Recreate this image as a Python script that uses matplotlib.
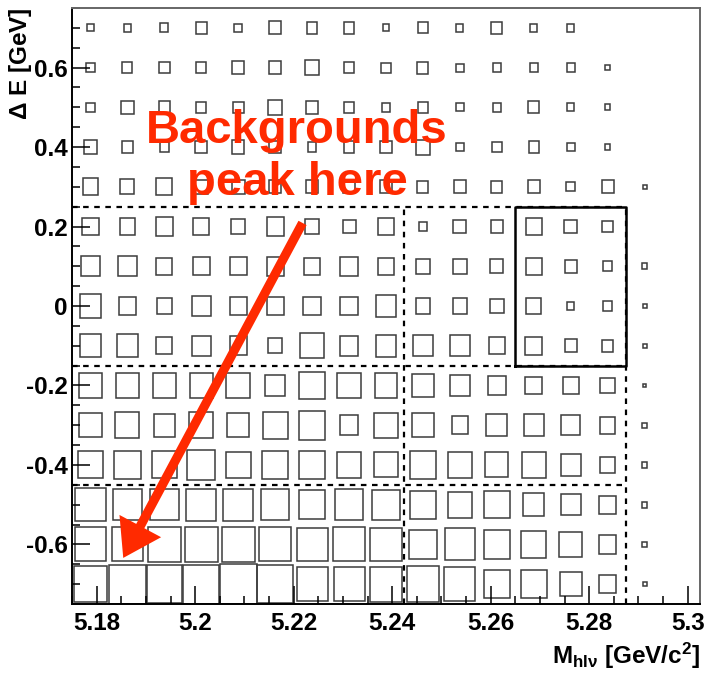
import matplotlib
matplotlib.use('Agg')
import matplotlib.pyplot as plt
from matplotlib.patches import Rectangle
from matplotlib.ticker import MultipleLocator, FixedLocator
import numpy as np

# binning of the Mbc / Delta E plane
x_edges = np.linspace(5.175, 5.3025, 18)
y_edges = np.linspace(-0.75, 0.75, 16)

# box side relative to bin size, rows from dE = 0.7 (top) down to -0.7
box_frac = [
    [0.18, 0.19, 0.22, 0.30, 0.21, 0.32, 0.29, 0.29, 0.18, 0.27, 0.19, 0.29, 0.19, 0.20, 0.00, 0.00, 0],
    [0.23, 0.27, 0.29, 0.27, 0.33, 0.32, 0.36, 0.29, 0.25, 0.30, 0.20, 0.22, 0.23, 0.21, 0.13, 0.00, 0],
    [0.23, 0.33, 0.31, 0.27, 0.29, 0.39, 0.34, 0.27, 0.22, 0.27, 0.21, 0.23, 0.31, 0.20, 0.15, 0.00, 0],
    [0.34, 0.30, 0.25, 0.32, 0.33, 0.32, 0.23, 0.29, 0.31, 0.38, 0.22, 0.26, 0.28, 0.22, 0.15, 0.00, 0],
    [0.42, 0.38, 0.43, 0.36, 0.35, 0.33, 0.32, 0.33, 0.33, 0.30, 0.33, 0.30, 0.32, 0.23, 0.33, 0.11, 0],
    [0.44, 0.42, 0.47, 0.43, 0.39, 0.46, 0.38, 0.35, 0.41, 0.22, 0.35, 0.34, 0.42, 0.34, 0.28, 0.00, 0],
    [0.51, 0.50, 0.43, 0.46, 0.46, 0.47, 0.44, 0.47, 0.43, 0.38, 0.38, 0.35, 0.42, 0.32, 0.24, 0.14, 0],
    [0.59, 0.47, 0.40, 0.51, 0.47, 0.47, 0.47, 0.47, 0.53, 0.38, 0.38, 0.37, 0.41, 0.20, 0.24, 0.11, 0],
    [0.57, 0.57, 0.43, 0.51, 0.47, 0.39, 0.63, 0.50, 0.56, 0.54, 0.54, 0.42, 0.45, 0.33, 0.31, 0.11, 0],
    [0.63, 0.63, 0.61, 0.63, 0.65, 0.54, 0.69, 0.63, 0.62, 0.59, 0.54, 0.48, 0.45, 0.43, 0.39, 0.09, 0],
    [0.60, 0.65, 0.57, 0.65, 0.60, 0.68, 0.72, 0.50, 0.63, 0.60, 0.45, 0.56, 0.54, 0.50, 0.42, 0.13, 0],
    [0.68, 0.72, 0.68, 0.75, 0.67, 0.70, 0.72, 0.66, 0.63, 0.70, 0.66, 0.63, 0.66, 0.54, 0.42, 0.13, 0],
    [0.84, 0.77, 0.77, 0.81, 0.81, 0.77, 0.72, 0.77, 0.76, 0.70, 0.66, 0.69, 0.57, 0.54, 0.45, 0.15, 0],
    [0.86, 0.86, 0.88, 0.90, 0.89, 0.86, 0.84, 0.86, 0.85, 0.74, 0.81, 0.72, 0.68, 0.63, 0.47, 0.13, 0],
    [0.90, 0.98, 0.96, 0.98, 1.00, 0.97, 0.84, 0.84, 0.88, 0.89, 0.84, 0.70, 0.70, 0.59, 0.47, 0.11, 0],
]

# region boundaries
dashed_h = [0.25, -0.15, -0.45]
dashed_h_xmax = 5.2875
dashed_v = [5.2425, 5.2875]
dashed_v_ymax = 0.25
signal_box = [5.265, 5.2875, -0.15, 0.25]  # x0, x1, y0, y1

x_ticks = [5.18, 5.2, 5.22, 5.24, 5.26, 5.28, 5.3]
x_ticklabels = ['5.18', '5.2', '5.22', '5.24', '5.26', '5.28', '5.3']
y_ticks = [-0.6, -0.4, -0.2, 0, 0.2, 0.4, 0.6]
y_ticklabels = ['-0.6', '-0.4', '-0.2', '0', '0.2', '0.4', '0.6']

note_text = 'Backgrounds\npeak here'
note_xy = (5.2207, 0.375)
arrow_tail = (5.2218, 0.209)
arrow_tip = (5.1854, -0.634)

red = '#ff2a00'
plt.rcParams['font.family'] = ['Liberation Sans', 'DejaVu Sans']
plt.rcParams['mathtext.fontset'] = 'custom'
plt.rcParams['mathtext.rm'] = 'Liberation Sans:bold'
plt.rcParams['mathtext.it'] = 'Liberation Sans:bold'
plt.rcParams['mathtext.bf'] = 'Liberation Sans:bold'

fig = plt.figure(figsize=(7.11, 6.76), dpi=100)
ax = fig.add_axes([0.1013, 0.1065, 0.8832, 0.8817])

xc = 0.5 * (x_edges[:-1] + x_edges[1:])
yc = 0.5 * (y_edges[:-1] + y_edges[1:])[::-1]
wx = x_edges[1] - x_edges[0]
wy = y_edges[1] - y_edges[0]

for i, row in enumerate(box_frac):
    for j, f in enumerate(row):
        if f <= 0:
            continue
        w, h = f * wx, f * wy
        ax.add_patch(Rectangle((xc[j] - w / 2, yc[i] - h / 2), w, h,
                               fill=False, edgecolor='#3c3c3c', lw=1.1))

# dashed region lines
for yv in dashed_h:
    ax.plot([x_edges[0], dashed_h_xmax], [yv, yv], color='k', lw=1.6,
            ls=(0, (2.5, 2.5)))
for xv in dashed_v:
    ax.plot([xv, xv], [y_edges[0], dashed_v_ymax], color='k', lw=1.6,
            ls=(0, (2.5, 2.5)))

x0, x1, y0, y1 = signal_box
ax.plot([x0, x1, x1, x0, x0], [y0, y0, y1, y1, y0], color='k', lw=1.8)

ax.set_xlim(x_edges[0], x_edges[-1])
ax.set_ylim(y_edges[0], y_edges[-1])

ax.xaxis.set_major_locator(FixedLocator(x_ticks))
ax.set_xticklabels(x_ticklabels)
ax.xaxis.set_minor_locator(MultipleLocator(0.005))
ax.yaxis.set_major_locator(FixedLocator(y_ticks))
ax.set_yticklabels(y_ticklabels)
ax.yaxis.set_minor_locator(MultipleLocator(0.05))

ax.tick_params(which='both', direction='in', top=False, right=False,
               color='k', width=1.1)
ax.tick_params(which='major', length=13, labelsize=17.5, pad=3)
ax.tick_params(axis='x', which='major', pad=6)
ax.tick_params(which='minor', length=6)
for lab in ax.get_xticklabels() + ax.get_yticklabels():
    lab.set_fontweight('bold')

for side in ['left', 'bottom']:
    ax.spines[side].set_linewidth(1.4)
    ax.spines[side].set_color('k')
for side in ['top', 'right']:
    ax.spines[side].set_linewidth(1.4)
    ax.spines[side].set_color('#666666')

ax.set_ylabel(r'$\Delta$ E [GeV]', fontsize=17.5, fontweight='bold',
              ha='right')
ax.yaxis.set_label_coords(-0.06, 1.0)
ax.set_xlabel(r'M$_{\mathrm{hl\nu}}$ [GeV/c$^{\mathrm{2}}$]', fontsize=17.5,
              fontweight='bold', ha='right')
ax.xaxis.set_label_coords(1.0, -0.062)

ax.text(note_xy[0], note_xy[1], note_text, color=red, fontsize=34,
        fontweight='bold', ha='center', va='center', linespacing=1.22)

ax.annotate('', xy=arrow_tip, xytext=arrow_tail,
            arrowprops=dict(arrowstyle='simple,head_length=1.3,head_width=1.7,tail_width=0.33',
                            mutation_scale=20, color=red, lw=0,
                            shrinkA=0, shrinkB=0))

fig.savefig('out.png', dpi=100)
